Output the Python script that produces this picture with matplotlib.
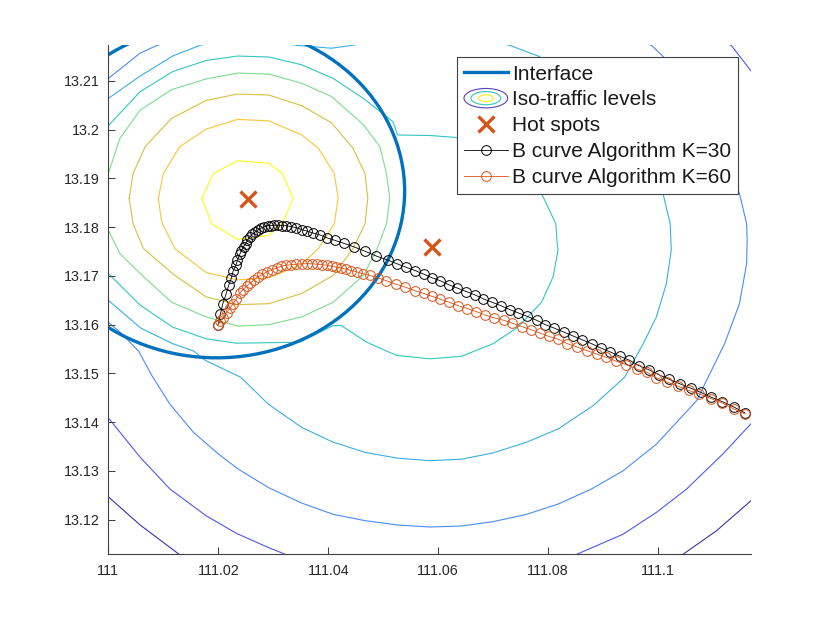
"""
plot.py
Interface, iso-traffic contours, hot spots and B curve paths.
Output: out.png
"""
import matplotlib
matplotlib.use('Agg')
import matplotlib.pyplot as plt
from matplotlib.legend_handler import HandlerBase
from matplotlib.lines import Line2D
from matplotlib.patches import Circle, Ellipse

plt.rcParams['font.family'] = ['Liberation Sans', 'DejaVu Sans']

# Iso-traffic levels, inner to outer. Some run outside the axes and get clipped.
level1_x = [111.0170, 111.0191, 111.0235, 111.0292, 111.0317, 111.0336, 111.0317, 111.0292, 111.0235, 111.0188, 111.0170]
level1_y = [13.1859, 13.1910, 13.1936, 13.1931, 13.1910, 13.1859, 13.1809, 13.1783, 13.1775, 13.1807, 13.1859]

level2_x = [111.0091, 111.0100, 111.0130, 111.0178, 111.0235, 111.0292, 111.0352, 111.0382, 111.0411, 111.0418,
            111.0411, 111.0382, 111.0352, 111.0292, 111.0235, 111.0178, 111.0121, 111.0097, 111.0091]
level2_y = [13.1859, 13.1910, 13.1965, 13.2001, 13.2021, 13.2018, 13.1989, 13.1962, 13.1910, 13.1859,
            13.1807, 13.1756, 13.1724, 13.1696, 13.1692, 13.1707, 13.1756, 13.1811, 13.1859]

level3_x = [111.0038, 111.0045, 111.0067, 111.0115, 111.0178, 111.0235, 111.0292, 111.0352, 111.0406, 111.0445, 111.0467, 111.0472,
            111.0467, 111.0445, 111.0409, 111.0352, 111.0292, 111.0235, 111.0178, 111.0121, 111.0064, 111.0045, 111.0038]
level3_y = [13.1859, 13.1910, 13.1965, 13.2023, 13.2060, 13.2073, 13.2071, 13.2049, 13.2014, 13.1962, 13.1910, 13.1859,
            13.1807, 13.1756, 13.1701, 13.1664, 13.1643, 13.1641, 13.1657, 13.1701, 13.1756, 13.1807, 13.1859]

level4_x = [111.0000, 111.0021, 111.0058, 111.0115, 111.0178, 111.0235, 111.0292, 111.0352, 111.0406, 111.0464, 111.0494, 111.0506, 111.0512,
            111.0506, 111.0488, 111.0464, 111.0409, 111.0352, 111.0292, 111.0235, 111.0178, 111.0115, 111.0058, 111.0021, 111.0000]
level4_y = [13.1910, 13.1982, 13.2040, 13.2082, 13.2104, 13.2116, 13.2114, 13.2095, 13.2068, 13.2010, 13.1965, 13.1910, 13.1859,
            13.1807, 13.1753, 13.1701, 13.1646, 13.1616, 13.1600, 13.1597, 13.1616, 13.1646, 13.1705, 13.1746, 13.1794]

level5_x = [111.0000, 111.0058, 111.0117, 111.0178, 111.0235, 111.0292, 111.0352, 111.0409, 111.0464, 111.0518, 111.0526, 111.0585, 111.0632,
            111.0742, 111.0788, 111.0814, 111.0816, 111.0818, 111.0809, 111.0788, 111.0745, 111.0700, 111.0642, 111.0585, 111.0524, 111.0470,
            111.0424, 111.0409, 111.0348, 111.0233, 111.0178, 111.0117, 111.0058, 111.0000]
level5_y = [13.2008, 13.2078, 13.2119, 13.2142, 13.2151, 13.2149, 13.2133, 13.2105, 13.2064, 13.2016, 13.1989, 13.1988, 13.1984,
            13.1924, 13.1869, 13.1807, 13.1773, 13.1753, 13.1698, 13.1646, 13.1595, 13.1561, 13.1535, 13.1530, 13.1537, 13.1564,
            13.1598, 13.1598, 13.1564, 13.1562, 13.1571, 13.1595, 13.1640, 13.1705]

level6_x = [111.0000, 111.0058, 111.0117, 111.0167, 111.0255, 111.0342, 111.0406, 111.0444, 111.0585, 111.0730, 111.0784, 111.0894,
            111.1009, 111.1022, 111.1024, 111.1015, 111.0997, 111.0973, 111.0939, 111.0882, 111.0818, 111.0761, 111.0700, 111.0642,
            111.0585, 111.0527, 111.0467, 111.0409, 111.0352, 111.0291, 111.0241, 111.0176, 111.0155, 111.0117, 111.0059, 111.0000]
level6_y = [13.2064, 13.2110, 13.2151, 13.2173, 13.2195, 13.2173, 13.2167, 13.2173, 13.2205, 13.2173, 13.2150, 13.2054,
            13.1869, 13.1807, 13.1753, 13.1684, 13.1616, 13.1561, 13.1492, 13.1434, 13.1386, 13.1359, 13.1337, 13.1324,
            13.1321, 13.1326, 13.1338, 13.1359, 13.1389, 13.1437, 13.1492, 13.1527, 13.1546, 13.1561, 13.1593, 13.1650]

level7_x = [111.0000, 111.0058, 111.0089, 111.0530, 111.0988, 111.1009, 111.1076, 111.1148, 111.1161, 111.1162, 111.1161, 111.1148, 111.1121,
            111.1070, 111.0997, 111.0936, 111.0879, 111.0818, 111.0761, 111.0700, 111.0642, 111.0585, 111.0527, 111.0467, 111.0409,
            111.0352, 111.0291, 111.0236, 111.0200, 111.0155, 111.0112, 111.0079, 111.0055, 111.0021, 111.0000]
level7_y = [13.2105, 13.2157, 13.2173, 13.2321, 13.2173, 13.2150, 13.2068, 13.1869, 13.1807, 13.1773, 13.1725, 13.1643, 13.1561,
            13.1444, 13.1355, 13.1300, 13.1263, 13.1232, 13.1211, 13.1196, 13.1187, 13.1185, 13.1189, 13.1198, 13.1211,
            13.1234, 13.1266, 13.1304, 13.1335, 13.1379, 13.1437, 13.1496, 13.1546, 13.1585, 13.1605]

level8_x = [111.0000, 111.0058, 111.0112, 111.0178, 111.0233, 111.0291, 111.0324, 111.0585, 111.0850, 111.0936, 111.0997, 111.1052,
            111.1118, 111.1170, 111.1227, 111.1170, 111.1133, 111.0591, 111.0030, 111.0000, 110.9924, 111.0000]
level8_y = [13.1409, 13.1328, 13.1263, 13.1208, 13.1172, 13.1143, 13.1128, 13.1061, 13.1128, 13.1170, 13.1215, 13.1263,
            13.1335, 13.1398, 13.1773, 13.2119, 13.2173, 13.2390, 13.2173, 13.2155, 13.1773, 13.1409]

level9_x = [111.0000, 111.0058, 111.0130, 111.0591, 111.1044, 111.1106, 111.1170]
level9_y = [13.1247, 13.1189, 13.1128, 13.0883, 13.1128, 13.1177, 13.1240]

levels_x = [level9_x, level8_x, level7_x, level6_x, level5_x, level4_x, level3_x, level2_x, level1_x]
levels_y = [level9_y, level8_y, level7_y, level6_y, level5_y, level4_y, level3_y, level2_y, level1_y]
level_colors = ['#4030a8', '#4f58ec', '#4a8cf5', '#38b0e4', '#30c8c0', '#7ddc90', '#d8c040', '#fcc538', '#f9fb15']

interface_center = (111.0197, 13.1874)
interface_radius = 0.0342

hot_x = [111.0255, 111.0589]
hot_y = [13.1857, 13.1759]

k30_x = [111.1158, 111.1138, 111.1117, 111.1097, 111.1078, 111.1059, 111.1039, 111.1020, 111.1002, 111.0984,
         111.0965, 111.0948, 111.0931, 111.0913, 111.0896, 111.0879, 111.0862, 111.0845, 111.0828, 111.0811,
         111.0795, 111.0779, 111.0762, 111.0746, 111.0730, 111.0714, 111.0698, 111.0682, 111.0667, 111.0651,
         111.0635, 111.0619, 111.0604, 111.0589, 111.0575, 111.0558, 111.0541, 111.0525, 111.0509, 111.0487,
         111.0466, 111.0446, 111.0428, 111.0412, 111.0398, 111.0385, 111.0372, 111.0361, 111.0352, 111.0342,
         111.0333, 111.0324, 111.0316, 111.0309, 111.0302, 111.0296, 111.0290, 111.0284, 111.0278, 111.0272,
         111.0267, 111.0262, 111.0257, 111.0253, 111.0250, 111.0246, 111.0242, 111.0239, 111.0235, 111.0232,
         111.0227, 111.0224, 111.0219, 111.0214, 111.0208, 111.0204, 111.0200]
k30_y = [13.1419, 13.1431, 13.1442, 13.1451, 13.1461, 13.1470, 13.1479, 13.1488, 13.1497, 13.1507,
         13.1516, 13.1527, 13.1535, 13.1544, 13.1552, 13.1561, 13.1569, 13.1577, 13.1585, 13.1593,
         13.1600, 13.1609, 13.1617, 13.1624, 13.1631, 13.1639, 13.1646, 13.1653, 13.1661, 13.1668,
         13.1675, 13.1682, 13.1690, 13.1696, 13.1703, 13.1711, 13.1718, 13.1725, 13.1732, 13.1741,
         13.1751, 13.1760, 13.1767, 13.1773, 13.1778, 13.1784, 13.1788, 13.1792, 13.1795, 13.1799,
         13.1801, 13.1803, 13.1803, 13.1804, 13.1804, 13.1803, 13.1803, 13.1801, 13.1798, 13.1794,
         13.1790, 13.1786, 13.1779, 13.1773, 13.1766, 13.1760, 13.1752, 13.1744, 13.1732, 13.1722,
         13.1710, 13.1696, 13.1681, 13.1662, 13.1642, 13.1621, 13.1600]

k60_x = [111.1158, 111.1138, 111.1117, 111.1097, 111.1075, 111.1056, 111.1036, 111.1017, 111.0997, 111.0979,
         111.0961, 111.0942, 111.0924, 111.0906, 111.0888, 111.0870, 111.0853, 111.0835, 111.0818, 111.0801,
         111.0785, 111.0768, 111.0752, 111.0735, 111.0719, 111.0702, 111.0685, 111.0669, 111.0653, 111.0636,
         111.0620, 111.0604, 111.0589, 111.0574, 111.0557, 111.0540, 111.0523, 111.0506, 111.0490, 111.0476,
         111.0464, 111.0453, 111.0442, 111.0433, 111.0424, 111.0415, 111.0406, 111.0397, 111.0388, 111.0379,
         111.0370, 111.0361, 111.0352, 111.0342, 111.0333, 111.0324, 111.0315, 111.0306, 111.0297, 111.0288,
         111.0280, 111.0272, 111.0265, 111.0258, 111.0252, 111.0245, 111.0239, 111.0233, 111.0227, 111.0221,
         111.0215, 111.0209, 111.0204, 111.0200]
k60_y = [13.1417, 13.1427, 13.1439, 13.1448, 13.1458, 13.1465, 13.1474, 13.1482, 13.1491, 13.1503,
         13.1509, 13.1518, 13.1525, 13.1533, 13.1540, 13.1547, 13.1554, 13.1561, 13.1570, 13.1576,
         13.1583, 13.1590, 13.1596, 13.1603, 13.1609, 13.1614, 13.1620, 13.1627, 13.1633, 13.1639,
         13.1646, 13.1652, 13.1658, 13.1664, 13.1670, 13.1677, 13.1683, 13.1690, 13.1696, 13.1701,
         13.1704, 13.1708, 13.1711, 13.1714, 13.1716, 13.1718, 13.1720, 13.1722, 13.1723, 13.1724,
         13.1725, 13.1725, 13.1725, 13.1724, 13.1723, 13.1722, 13.1720, 13.1716, 13.1713, 13.1708,
         13.1703, 13.1698, 13.1692, 13.1685, 13.1679, 13.1672, 13.1664, 13.1653, 13.1643, 13.1634,
         13.1624, 13.1614, 13.1607, 13.1600]

x_ticks = [111, 111.02, 111.04, 111.06, 111.08, 111.1]
x_tick_labels = ['111', '111.02', '111.04', '111.06', '111.08', '111.1']
y_ticks = [13.12, 13.13, 13.14, 13.15, 13.16, 13.17, 13.18, 13.19, 13.2, 13.21]
y_tick_labels = ['13.12', '13.13', '13.14', '13.15', '13.16', '13.17', '13.18', '13.19', '13.2', '13.21']

BLUE = '#0072BD'
ORANGE = '#D95319'
AXIS = '#404040'
curve_style = dict(linewidth=0.6, marker='o', markerfacecolor='none', markersize=7, markeredgewidth=0.7)


class IsoHandler(HandlerBase):
    # three nested ellipses as the contour legend sample
    def create_artists(self, legend, orig_handle, xdescent, ydescent, width, height, fontsize, trans):
        cx = width / 2 - xdescent
        cy = height / 2 - ydescent
        out = []
        for scale, col in [(1.0, '#5a40c0'), (0.68, '#30c8c0'), (0.34, '#f0f020')]:
            out.append(Ellipse((cx, cy), width * scale, 14.0 * scale, fill=False, edgecolor=col, lw=0.8, transform=trans))
        return out


fig = plt.figure(figsize=(8.3, 6.23), dpi=100)
ax = fig.add_axes([108.3 / 830, 1 - 554.3 / 623, (751 - 108.3) / 830, (554.3 - 45.3) / 623])

for xs, ys, col in zip(levels_x, levels_y, level_colors):
    ax.plot(xs, ys, color=col, linewidth=0.8, zorder=1)

ax.add_patch(Circle(interface_center, interface_radius, fill=False, edgecolor=BLUE, linewidth=2.4, zorder=2))

ax.plot(hot_x, hot_y, linestyle='none', marker='x', color=ORANGE, markersize=12, markeredgewidth=2.4, zorder=3)
ax.plot(k30_x, k30_y, color='k', zorder=4, **curve_style)
ax.plot(k60_x, k60_y, color=ORANGE, zorder=4, **curve_style)

ax.set_xlim(111, 111.1169)
ax.set_ylim(13.1129, 13.2173)
ax.set_xticks(x_ticks)
ax.set_xticklabels(x_tick_labels)
ax.set_yticks(y_ticks)
ax.set_yticklabels(y_tick_labels)
ax.tick_params(direction='in', length=4.8, width=0.75, color=AXIS, labelcolor='#262626', labelsize=10.3)
ax.tick_params(axis='x', pad=7)
ax.tick_params(axis='y', pad=6)
ax.spines['top'].set_visible(False)
ax.spines['right'].set_visible(False)
ax.spines['left'].set_color(AXIS)
ax.spines['bottom'].set_color(AXIS)
ax.spines['left'].set_linewidth(0.8)
ax.spines['bottom'].set_linewidth(0.8)

iso_handle = Line2D([], [], color='#5a40c0')
handles = [
    Line2D([], [], color=BLUE, linewidth=2.4),
    iso_handle,
    Line2D([], [], linestyle='none', marker='x', color=ORANGE, markersize=12, markeredgewidth=2.4),
    Line2D([], [], color='k', **curve_style),
    Line2D([], [], color=ORANGE, **curve_style),
]
labels = ['Interface', 'Iso-traffic levels', 'Hot spots', 'B curve Algorithm K=30', 'B curve Algorithm K=60']
leg = ax.legend(handles, labels, loc='upper left', bbox_to_anchor=(456.7 / 830, 1 - 57.3 / 623), bbox_transform=fig.transFigure,
                borderaxespad=0, fontsize=15, fancybox=False, framealpha=1, edgecolor=AXIS, handlelength=2.1,
                handletextpad=0.2, labelspacing=0.33, borderpad=0.35, labelcolor='#1a1a1a', handler_map={iso_handle: IsoHandler()})
leg.get_frame().set_linewidth(0.8)

fig.savefig('out.png', dpi=100)
